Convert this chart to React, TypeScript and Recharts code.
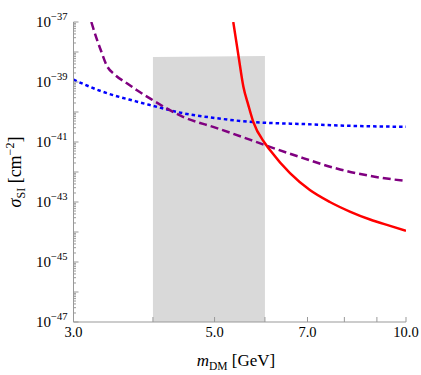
import { Area, ComposedChart, Label, Line, XAxis, YAxis } from 'recharts'

// cross-section limits vs dark matter mass (log-log)
const massTicks = [3, 4, 5, 6, 7, 8, 9, 10]
const labeledMass = [3, 5, 7, 10]
const decadeExps = [-47, -46, -45, -44, -43, -42, -41, -40, -39, -38, -37]
const labeledExps = [-47, -45, -43, -41, -39, -37]

const bandMass = [4.0, 6.0]
const bandTop = [6.8e-39, 7.4e-39]
const bandBottom = 1e-47

const blueMass = [3.0, 3.31, 3.75, 3.96, 4.46, 5.04, 5.75, 6.3, 6.81, 8.0, 10.0]
const blueSigma = [1.2e-39, 5.0e-40, 2.3e-40, 1.7e-40, 9.1e-41, 6.2e-41, 4.6e-41, 4.2e-41, 4.0e-41, 3.5e-41, 3.2e-41]

const purpleMass = [3.2, 3.26, 3.32, 3.38, 3.49, 3.64, 3.77, 3.95, 4.46, 5.04, 5.68, 6.11, 6.89, 7.78, 8.78, 10.0]
const purpleSigma = [1e-37, 2.9e-38, 1.0e-38, 3.7e-39, 1.7e-39, 9.1e-40, 5.4e-40, 2.9e-40, 6.9e-41, 2.9e-41, 1.2e-41, 6.9e-42, 2.9e-42, 1.3e-42, 7.4e-43, 5.0e-43]

const redMass = [5.35, 5.45, 5.55, 5.65, 5.75, 6.0, 6.11, 6.57, 7.06, 7.59, 8.16, 8.78, 9.44, 10.0]
const redSigma = [1e-37, 7.9e-39, 7.0e-40, 1.7e-40, 4.8e-41, 9.1e-42, 5.4e-42, 9.1e-43, 2.5e-43, 1.0e-43, 4.8e-44, 2.6e-44, 1.6e-44, 1.1e-44]

const sigmaTicks: number[] = []
decadeExps.forEach(e => {
  if (e === -37) { sigmaTicks.push(1e-37); return }
  for (let j = 1; j <= 9; j++) sigmaTicks.push(j * Math.pow(10, e))
})

const band = bandMass.map((m, i) => ({ m, range: [bandBottom, bandTop[i]] }))
const blue = blueMass.map((m, i) => ({ m, s: blueSigma[i] }))
const purple = purpleMass.map((m, i) => ({ m, s: purpleSigma[i] }))
const red = redMass.map((m, i) => ({ m, s: redSigma[i] }))

const FONT = 'Liberation Serif'
const AXIS = '#999'

const isDecade = (v: number) => {
  const e = Math.log10(v)
  return Math.abs(e - Math.round(e)) < 1e-6
}

const LeftTick = (props: any) => {
  const { x, y, payload } = props
  const v = payload.value
  const dec = isDecade(v)
  const e = Math.round(Math.log10(v))
  return (
    <g>
      <line x1={x} x2={x + (dec ? 5 : 2.5)} y1={y} y2={y} stroke={AXIS} />
      {dec && labeledExps.includes(e) && (
        <text x={x - 6} y={y + 5} textAnchor='end' fontFamily={FONT} fontSize={15} fill='#000'>
          10<tspan dy={-7} fontSize={10.5}>{'\u2212' + Math.abs(e)}</tspan>
        </text>
      )}
    </g>
  )
}

const RightTick = (props: any) => {
  const { x, y, payload } = props
  const dec = isDecade(payload.value)
  return <line x1={x} x2={x - (dec ? 5 : 2.5)} y1={y} y2={y} stroke={AXIS} />
}

const BottomTick = (props: any) => {
  const { x, y, payload } = props
  const v = payload.value
  return (
    <g>
      <line x1={x} x2={x} y1={y} y2={y - 5} stroke={AXIS} />
      {labeledMass.includes(v) && (
        <text x={x} y={y + 15} textAnchor='middle' fontFamily={FONT} fontSize={14.5} fill='#000'>
          {v.toFixed(1)}
        </text>
      )}
    </g>
  )
}

const TopTick = (props: any) => {
  const { x, y } = props
  return <line x1={x} x2={x} y1={y} y2={y + 5} stroke={AXIS} />
}

const XTitle = () => (
  <text x={236} y={366} textAnchor='middle' fontFamily={FONT} fontSize={17} fill='#000'>
    <tspan fontStyle='italic'>m</tspan>
    <tspan dy={4} fontSize={11.5}>DM</tspan>
    <tspan dy={-4}> [GeV]</tspan>
  </text>
)

const YTitle = () => (
  <text x={21} y={172} transform='rotate(-90, 21, 172)' textAnchor='middle' fontFamily={FONT} fontSize={18} fill='#000'>
    <tspan fontStyle='italic'>σ</tspan>
    <tspan dy={4} fontSize={12}>SI</tspan>
    <tspan dy={-4}> [cm</tspan>
    <tspan dy={-7} fontSize={12}>{'\u22122'}</tspan>
    <tspan dy={7}>]</tspan>
  </text>
)

const App = () => {
  return (
    <div style={{ position: 'absolute', left: 0, top: 0 }}>
      <ComposedChart width={421} height={375} margin={{ top: 22, right: 15, bottom: 0, left: 0 }}>
        <XAxis xAxisId='b' dataKey='m' type='number' scale='log' domain={[3, 10]} allowDataOverflow
          ticks={massTicks} interval={0} tickSize={0} tickMargin={0} tickLine={false} height={53}
          axisLine={{ stroke: AXIS }} tick={<BottomTick />}>
          <Label content={<XTitle />} />
        </XAxis>
        <XAxis xAxisId='t' orientation='top' dataKey='m' type='number' scale='log' domain={[3, 10]} allowDataOverflow
          ticks={massTicks} interval={0} tickSize={0} tickMargin={0} tickLine={false} height={0}
          axisLine={{ stroke: AXIS }} tick={<TopTick />} />
        <YAxis yAxisId='l' type='number' scale='log' domain={[1e-47, 1e-37]} allowDataOverflow
          ticks={sigmaTicks} interval={0} tickSize={0} tickMargin={0} tickLine={false} width={73.5}
          axisLine={{ stroke: AXIS }} tick={<LeftTick />}>
          <Label content={<YTitle />} />
        </YAxis>
        <YAxis yAxisId='r' orientation='right' type='number' scale='log' domain={[1e-47, 1e-37]} allowDataOverflow
          ticks={sigmaTicks} interval={0} tickSize={0} tickMargin={0} tickLine={false} width={0}
          axisLine={{ stroke: AXIS }} tick={<RightTick />} />

        <Area xAxisId='b' yAxisId='l' data={band} dataKey='range' type='linear' stroke='none'
          fill='#d9d9d9' fillOpacity={1} isAnimationActive={false} />
        <Line xAxisId='b' yAxisId='l' data={blue} dataKey='s' type='monotone' stroke='#0000ff'
          strokeWidth={2.5} strokeDasharray='3.5 3' dot={false} isAnimationActive={false} />
        <Line xAxisId='b' yAxisId='l' data={purple} dataKey='s' type='monotone' stroke='#800080'
          strokeWidth={2.5} strokeDasharray='8 4' dot={false} isAnimationActive={false} />
        <Line xAxisId='b' yAxisId='l' data={red} dataKey='s' type='monotone' stroke='#ff0000'
          strokeWidth={2.5} dot={false} isAnimationActive={false} />
      </ComposedChart>
    </div>
  )
}

export default App
